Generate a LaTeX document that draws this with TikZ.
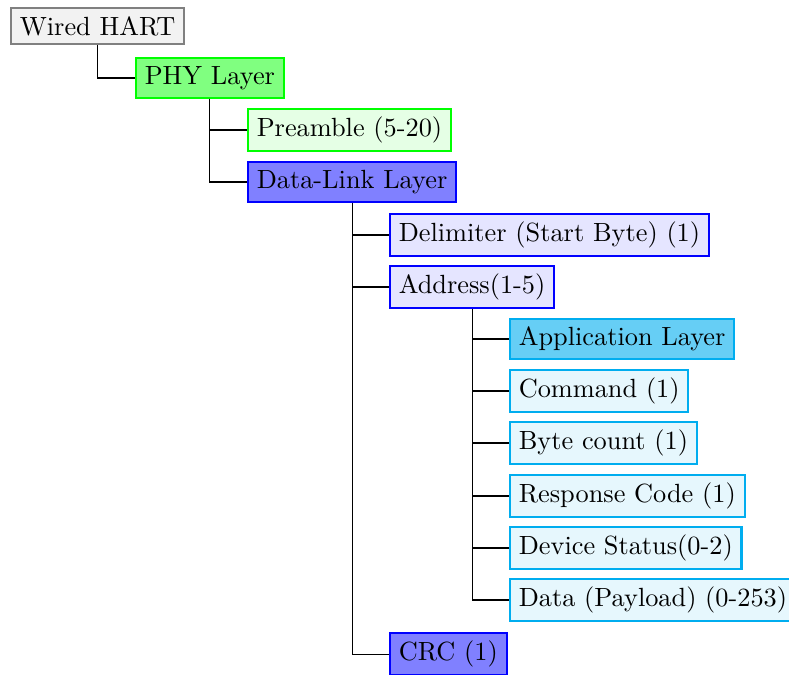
\documentclass[tikz,border=0pt]{standalone}
\usetikzlibrary{positioning}
\begin{document}
\begin{tikzpicture}[x=0.380pt,y=-0.380pt,
  box/.style={draw, thick, anchor=west, inner xsep=0.333em, inner ysep=3pt},
  rootbox/.style={box, draw=gray, fill=gray!10},
  phybox/.style={box, draw=green, fill=green!50},
  phyitem/.style={box, draw=green, fill=green!10},
  dlbox/.style={box, draw=blue, fill=blue!50},
  dlitem/.style={box, draw=blue, fill=blue!10},
  appbox/.style={box, draw=cyan, fill=cyan!60},
  appitem/.style={box, draw=cyan, fill=cyan!10},
  link/.style={draw=black, line width=0.4pt}]
\useasboundingbox (0,0) rectangle (789,674);
\clip (0,0) rectangle (789,674);

% protocol stack nodes
\node[rootbox] (hart) at (10,26) {Wired HART};
\node[phybox]  (phy)  at (135,78) {PHY Layer};
\node[phyitem] (pre)  at (247,130) {Preamble (5-20)};
\node[dlbox]   (dl)   at (247,182) {Data-Link Layer};
\node[dlitem]  (del)  at (389,235) {Delimiter (Start Byte) (1)};
\node[dlitem]  (addr) at (389,287) {Address(1-5)};
\node[appbox]  (app)  at (509,339) {Application Layer};
\node[appitem] (cmd)  at (509,391) {Command (1)};
\node[appitem] (cnt)  at (509,443) {Byte count (1)};
\node[appitem] (resp) at (509,496) {Response Code (1)};
\node[appitem] (stat) at (509,548) {Device Status(0-2)};
\node[appitem] (data) at (509,600) {Data (Payload) (0-253)};
\node[dlbox]   (crc)  at (389,654) {CRC (1)};

% folder-style connectors
\draw[link] (hart.south) |- (phy.west);
\draw[link] (phy.south) |- (pre.west);
\draw[link] (phy.south) |- (dl.west);
\foreach \c in {del,addr,crc} \draw[link] (dl.south) |- (\c.west);
\foreach \c in {app,cmd,cnt,resp,stat,data} \draw[link] (addr.south) |- (\c.west);
\end{tikzpicture}
\end{document}
